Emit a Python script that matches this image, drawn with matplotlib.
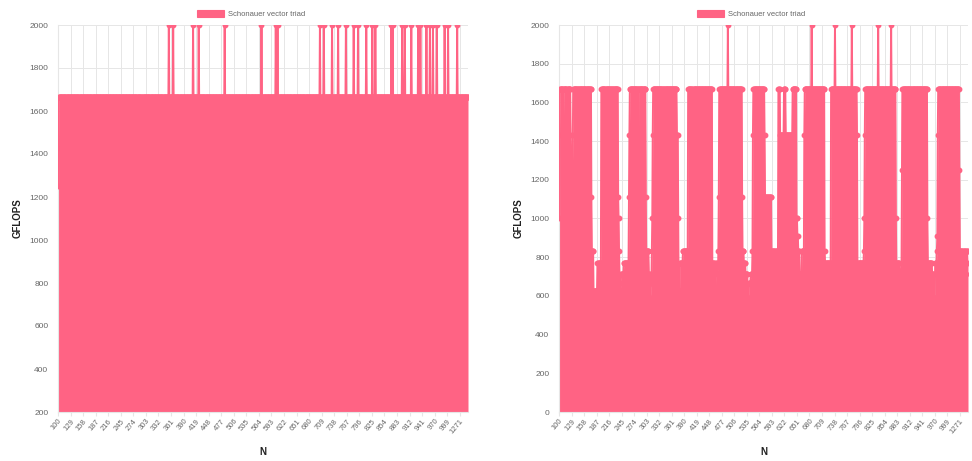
import numpy as np
import matplotlib
matplotlib.use("Agg")
import matplotlib.pyplot as plt
from matplotlib.patches import Patch

plt.rcParams['font.family'] = ['Liberation Sans', 'DejaVu Sans']

# x categories (problem size N), as labelled on the category axis
n_values = list(range(100, 1028)) + list(range(1271, 1291))
label_step = 29

# left run: flat at ~1667 GFLOPS with spikes to 2000 and a few dips
left_start = [1250, 1429]
left_base = 1667
left_spike = 2000
left_spike_idx = [256, 266, 312, 325, 385, 470, 503, 507, 605, 614, 633, 647,
                  665, 683, 693, 712, 726, 733, 770, 773, 795, 801, 816, 832,
                  837, 851, 859, 866, 875, 893, 901, 922]
left_dip = 1429
left_dip_idx = [193, 720, 842]

# right run: (GFLOPS, number of consecutive N)
right_runs = [
    (1000, 1), (1429, 1),
    (1667, 8), (1429, 1), (1667, 7), (1429, 1), (1667, 8),
    (1429, 1), (1250, 1), (930, 1), (1000, 1), (1250, 1), (1429, 1),
    (1667, 10), (1429, 1), (1667, 31),
    (1111, 1), (833, 4),
    (625, 9),
    (769, 9),
    (1667, 10), (1429, 1), (1667, 8), (1000, 1), (1667, 6), (1429, 1), (1667, 12),
    (1111, 1), (1000, 1), (833, 1), (714, 1), (625, 2), (667, 1), (714, 2),
    (714, 4), (769, 12),
    (1111, 1), (1429, 1), (1667, 20), (1429, 1), (1667, 16),
    (1111, 1), (833, 6), (714, 3), (588, 2), (667, 2),
    (833, 1), (1000, 1), (1429, 1),
    (1667, 25), (1429, 1), (1667, 29),
    (1429, 3), (1000, 1), (625, 3),
    (769, 7), (833, 12),
    (1667, 10), (1429, 2), (1667, 44),
    (769, 5), (625, 2), (588, 1), (769, 3), (714, 3),
    (833, 1), (1111, 1), (1667, 20), (2000, 1), (1667, 32), (1111, 1),
    (833, 3), (769, 4), (714, 5), (588, 3), (667, 4), (714, 4),
    (833, 1), (1429, 1), (1667, 26),
    (1429, 1), (1111, 7), (909, 1), (1111, 7),
    (833, 7), (769, 2), (833, 7),
    (1667, 4), (1429, 9), (1667, 4), (1429, 16), (1667, 9),
    (1000, 2), (909, 2), (833, 3), (714, 3), (625, 2), (833, 6),
    (1429, 1), (1667, 16), (2000, 1), (1667, 29), (833, 1),
    (769, 14),
    (1667, 9), (2000, 1), (1667, 38), (2000, 1), (1667, 11),
    (1429, 1), (769, 15),
    (833, 1), (1000, 1), (1429, 1), (1667, 30), (2000, 1), (1667, 29), (2000, 1), (1667, 10),
    (1000, 1), (769, 8), (714, 5),
    (1250, 1), (1667, 20), (1429, 1), (1667, 37), (1000, 1),
    (769, 10), (714, 4), (588, 3), (769, 4),
    (833, 1), (909, 1), (1429, 1), (1667, 49), (1250, 1),
    (833, 6), (667, 2), (833, 5), (714, 2), (833, 4), (769, 1),
]

n = len(n_values)
left = np.full(n, left_base, dtype=float)
left[:len(left_start)] = left_start
left[left_spike_idx] = left_spike
left[left_dip_idx] = left_dip

right = np.concatenate([np.full(c, v, dtype=float) for v, c in right_runs])
if len(right) < n:
    right = np.concatenate([right, np.full(n - len(right), right[-1])])
right = right[:n]

color = '#ff6384'
grid_c = '#e6e6e6'
text_c = '#666666'

fig = plt.figure(figsize=(9.72, 4.61), dpi=100)
ax_l = fig.add_axes([58 / 972, 1 - 412 / 461, 410 / 972, 387 / 461])
ax_r = fig.add_axes([559 / 972, 1 - 412 / 461, 409 / 972, 387 / 461])

x = np.arange(n)
tick_pos = x[::label_step]
tick_lab = [str(n_values[i]) for i in tick_pos]

for ax, y, ymin, leg_x in [(ax_l, left, 200, 251), (ax_r, right, 0, 751)]:
    ax.fill_between(x, y, ymin, color=color, linewidth=0, zorder=2)
    ax.plot(x, y, color=color, lw=1.4, marker='o', ms=3.2, mec=color,
            mfc=color, zorder=3, label='Schonauer vector triad')
    ax.set_xlim(0, n - 1)
    ax.set_ylim(ymin, 2000)
    ax.set_yticks(np.arange(ymin, 2001, 200))
    ax.set_xticks(tick_pos)
    ax.set_xticklabels(tick_lab, rotation=50, ha='right', rotation_mode='anchor')
    ax.tick_params(axis='x', length=3, color=grid_c, labelsize=5.5,
                   labelcolor=text_c, pad=1)
    ax.tick_params(axis='y', length=0, labelsize=6, labelcolor=text_c, pad=7)
    ax.grid(True, color=grid_c, lw=0.7)
    ax.set_axisbelow(True)
    for s in ['top', 'right']:
        ax.spines[s].set_visible(False)
    for s in ['left', 'bottom']:
        ax.spines[s].set_color(grid_c)
        ax.spines[s].set_linewidth(0.8)
    ax.set_xlabel('N', fontsize=7, fontweight='bold', color='#222222', va='center')
    ax.xaxis.set_label_coords(0.5, -40 / 387)
    ax.set_ylabel('GFLOPS', fontsize=7, fontweight='bold', color='#222222', va='center')
    ax.yaxis.set_label_coords(-40 / 410, 0.5)
    handle = Patch(facecolor=color, edgecolor=color, lw=0.8)
    fig.legend([handle], ['Schonauer vector triad'], loc='center',
               bbox_to_anchor=(leg_x / 972, 1 - 14 / 461), frameon=False,
               fontsize=5.5, handlelength=3.6, handleheight=1.1,
               handletextpad=0.5, labelcolor=text_c, borderpad=0)

plt.savefig('out.png', dpi=100)
